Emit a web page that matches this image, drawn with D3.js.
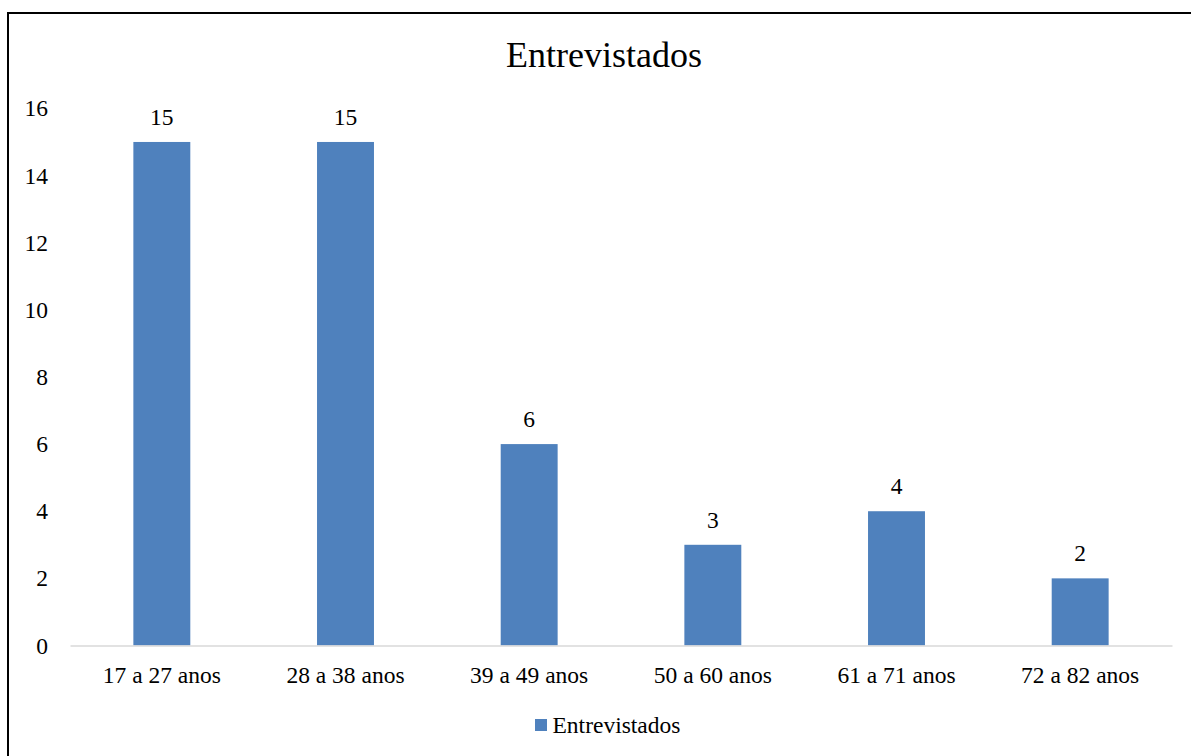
<!DOCTYPE html>
<html>
<head>
<meta charset="utf-8">
<script src="https://cdn.jsdelivr.net/npm/d3@7"></script>
<style>
  html, body { margin: 0; padding: 0; background: #fff; }
  svg { display: block; }
  text { font-family: "Liberation Serif", "Times New Roman", serif; fill: #000; }
</style>
</head>
<body>
<svg id="chart" width="1191" height="756"></svg>
<script>
const categories = ["17 a 27 anos", "28 a 38 anos", "39 a 49 anos", "50 a 60 anos", "61 a 71 anos", "72 a 82 anos"];
const values = [15, 15, 6, 3, 4, 2];
const yTicks = [0, 2, 4, 6, 8, 10, 12, 14, 16];
const seriesName = "Entrevistados";
const titleText = "Entrevistados";

(function () {
const svg = d3.select("#chart");
const W = 1191, H = 756;
const pLeft = 70, pRight = 1172, pTop = 108.4, pBottom = 645.5;

// outer border (image is cropped on right/bottom)
svg.append("rect")
  .attr("x", 8).attr("y", 13)
  .attr("width", W + 10).attr("height", H + 10)
  .attr("fill", "#fff").attr("stroke", "#000").attr("stroke-width", 2);

const x = d3.scaleBand().domain(categories).range([pLeft, pRight]).paddingInner(0.69).paddingOuter(0.345);
const y = d3.scaleLinear().domain([0, 16]).range([pBottom, pTop]);

// title
svg.append("text")
  .attr("x", 604).attr("y", 67)
  .attr("text-anchor", "middle")
  .style("font-size", "36px")
  .text(titleText);

// y axis labels
const yAxis = d3.axisLeft(y).tickValues(yTicks).tickSize(0).tickPadding(0).tickFormat(d3.format("d"));
const yg = svg.append("g").attr("transform", "translate(48,0)").call(yAxis);
yg.select(".domain").remove();
yg.attr("font-family", null).attr("font-size", null);
yg.selectAll("text").style("font-size", "23.5px").attr("dy", "0.32em");

// bars
svg.append("g").selectAll("rect").data(values).join("rect")
  .attr("x", (d, i) => x(categories[i]))
  .attr("width", x.bandwidth())
  .attr("y", d => y(d))
  .attr("height", d => y(0) - y(d))
  .attr("fill", "#4F81BD");

// x axis
const xAxis = d3.axisBottom(x).tickSize(0).tickPadding(0);
const xg = svg.append("g").attr("transform", `translate(0,${pBottom})`).call(xAxis);
xg.attr("font-family", null).attr("font-size", null);
xg.select(".domain").attr("stroke", "#D9D9D9").attr("stroke-width", 1.5);
xg.selectAll("text").style("font-size", "23.5px").attr("y", 37).attr("dy", 0);

// value labels
svg.append("g").selectAll("text").data(values).join("text")
  .attr("x", (d, i) => x(categories[i]) + x.bandwidth() / 2)
  .attr("y", d => y(d) - 17)
  .attr("text-anchor", "middle")
  .style("font-size", "23.5px")
  .text(d => d);

// legend
const lg = svg.append("g");
lg.append("rect").attr("x", 535).attr("y", 719).attr("width", 12).attr("height", 12).attr("fill", "#4F81BD");
lg.append("text").attr("x", 552.5).attr("y", 732.7).style("font-size", "23.5px").text(seriesName);
})();
</script>
</body>
</html>
